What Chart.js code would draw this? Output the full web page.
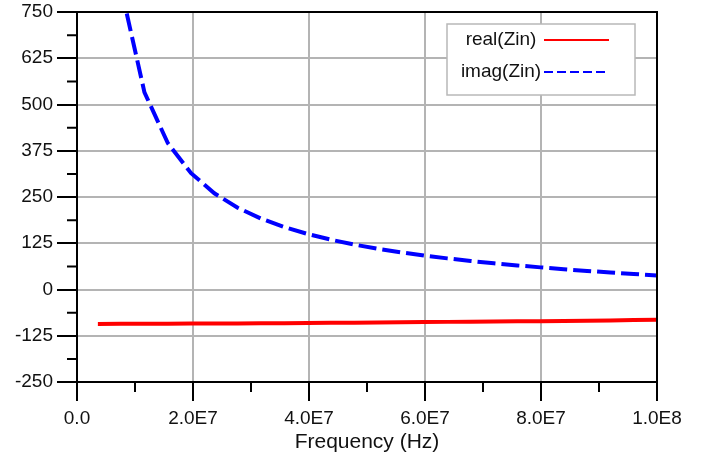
<!DOCTYPE html>
<html>
<head>
<meta charset="utf-8">
<script src="https://cdn.jsdelivr.net/npm/chart.js@4"></script>
<style>
  html,body{margin:0;padding:0;background:#fff;}
  #chart{display:block;}
</style>
</head>
<body>
<canvas id="chart" width="711" height="460"></canvas>
<script>
// sweep points (Hz)
const freqs = [3.60e6, 7.62e6, 11.63e6, 15.65e6, 19.67e6, 23.68e6, 27.70e6, 31.72e6, 35.73e6,
  39.75e6, 43.77e6, 47.78e6, 51.80e6, 55.82e6, 59.83e6, 63.85e6, 67.87e6, 71.88e6, 75.90e6,
  79.92e6, 83.93e6, 87.95e6, 91.97e6, 95.98e6, 100.0e6];
const realZin = [-93.0, -92.9, -92.7, -92.5, -92.2, -91.9, -91.6, -91.3, -90.9, -90.5, -90.0, -89.6, -89.1,
  -88.6, -88.0, -87.5, -87.0, -86.5, -86.1, -85.6, -85.0, -84.3, -83.5, -82.6, -81.6];
const imagZin = [1714.9, 812.5, 532.9, 395.9, 314.3, 260.1, 221.1, 191.7, 168.7, 150.0, 134.6, 121.5, 110.3,
  100.5, 91.9, 84.1, 77.1, 70.9, 65.0, 59.8, 54.8, 50.2, 45.9, 41.9, 38.0];
const seriesNames = ["real(Zin)", "imag(Zin)"];
const xTitle = "Frequency (Hz)";

const FONT = 'Arial, "Liberation Sans", sans-serif';
const GRID = "#b4b4b4";
const CLEAR = "rgba(0,0,0,0)";

function fmtFreq(v){ return v===0 ? "0.0" : v.toExponential(1).replace("e+","E"); }
const xMajor = v => v % 2e7 === 0;
const yMajor = v => v % 125 === 0;

// frame, minor ticks and boxed legend
const decor = {
  id:"decor",
  afterDatasetsDraw(chart){
    const {ctx, chartArea:a, scales:{x, y}} = chart;
    ctx.save();
    ctx.strokeStyle="#000"; ctx.lineWidth=2;
    ctx.strokeRect(a.left, a.top, a.right-a.left, a.bottom-a.top);
    ctx.beginPath();
    x.ticks.forEach(t=>{ if(!xMajor(t.value)){ const p=x.getPixelForValue(t.value); ctx.moveTo(p,a.bottom); ctx.lineTo(p,a.bottom+10); } });
    y.ticks.forEach(t=>{ if(!yMajor(t.value)){ const p=y.getPixelForValue(t.value); ctx.moveTo(a.left-10,p); ctx.lineTo(a.left,p); } });
    ctx.stroke();

    const bx=a.right-210, by=a.top+12, bw=188, bh=71;
    ctx.fillStyle="#fff"; ctx.fillRect(bx,by,bw,bh);
    ctx.strokeStyle="#b8b8b8"; ctx.lineWidth=1.5; ctx.strokeRect(bx,by,bw,bh);
    ctx.font="19px "+FONT; ctx.fillStyle="#111"; ctx.textAlign="center"; ctx.textBaseline="middle";
    chart.data.datasets.forEach((ds,i)=>{
      const ly=by+16+i*32;
      ctx.fillText(ds.label, bx+54, ly);
      ctx.strokeStyle=ds.borderColor; ctx.lineWidth=2; ctx.setLineDash(ds.borderDash ? [9,4] : []);
      ctx.beginPath(); ctx.moveTo(bx+97,ly); ctx.lineTo(bx+162,ly); ctx.stroke();
    });
    ctx.restore();
  }
};

new Chart(document.getElementById("chart"), {
  type:"line",
  data:{
    datasets:[
      {label:seriesNames[0], data:freqs.map((f,i)=>({x:f, y:realZin[i]})), borderColor:"#ff0000", borderWidth:4, pointRadius:0, fill:false},
      {label:seriesNames[1], data:freqs.map((f,i)=>({x:f, y:imagZin[i]})), borderColor:"#0000ff", borderWidth:4, borderDash:[18,6], pointRadius:0, fill:false}
    ]
  },
  options:{
    responsive:false, animation:false, devicePixelRatio:1,
    layout:{padding:{top:12, right:54, left:0, bottom:0}},
    plugins:{legend:{display:false}, tooltip:{enabled:false}},
    scales:{
      x:{
        type:"linear", min:0, max:1e8,
        afterFit(s){ s.height=78; s.paddingLeft=0; s.paddingRight=0; },
        ticks:{stepSize:1e7, autoSkip:false, maxRotation:0, padding:6, color:"#111", font:{family:FONT, size:19},
          callback:v=>xMajor(v)?fmtFreq(v):""},
        grid:{color:c=>xMajor(c.tick.value)?GRID:CLEAR, lineWidth:2, tickLength:19, tickWidth:2,
          tickColor:c=>xMajor(c.tick.value)?"#000":CLEAR},
        border:{color:"#000", width:2},
        title:{display:true, text:xTitle, color:"#111", font:{family:FONT, size:21}, padding:{top:0, bottom:5}}
      },
      y:{
        type:"linear", min:-250, max:750,
        afterFit(s){ s.width=77; s.paddingTop=0; s.paddingBottom=0; },
        ticks:{stepSize:62.5, autoSkip:false, padding:4, color:"#111", font:{family:FONT, size:19},
          callback:v=>yMajor(v)?String(v):""},
        grid:{color:c=>yMajor(c.tick.value)?GRID:CLEAR, lineWidth:2, tickLength:20, tickWidth:2,
          tickColor:c=>yMajor(c.tick.value)?"#000":CLEAR},
        border:{color:"#000", width:2}
      }
    }
  },
  plugins:[decor]
});
</script>
</body>
</html>
